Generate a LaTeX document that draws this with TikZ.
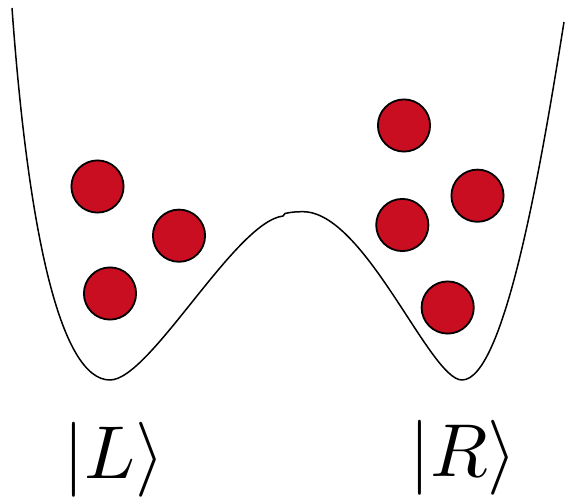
\documentclass[tikz,border=0pt]{standalone}
\usepackage{amsmath}
\usepackage{tikz}
\usetikzlibrary{positioning}
\definecolor{BallRed}{HTML}{C90E21}
\definecolor{WellColor}{HTML}{000000}

\begin{document}
\begin{tikzpicture}[x=1pt,y=-1pt,
    ball/.style={circle,draw=black,line width=1.8pt,fill=BallRed,
                 minimum size=52.2pt,inner sep=0pt},
    well/.style={WellColor,line width=1.5pt,line join=round},
    ket/.style={anchor=base,scale=7.5,inner sep=0pt}]
  \useasboundingbox (0,0) rectangle (566,498);
  % double-well potential (small step on top of the barrier)
  \coordinate (wtl) at (12,8);
  \coordinate (wminL) at (110,380);
  \coordinate (kink) at (283,216);
  \coordinate (kink2) at (285,213.5);
  \coordinate (peak) at (303,211.7);
  \coordinate (wminR) at (462,380);
  \coordinate (wtr) at (564,22);
  \draw[well] (wtl) .. controls (28,230) and (60,380) .. (wminL)
      .. controls (150,380) and (235,222) .. (kink) -- (kink2)
      .. controls (291,212) and (297,211.7) .. (peak)
      .. controls (365,211.7) and (430,380) .. (wminR)
      .. controls (505,380) and (542,160) .. (wtr);
  % particles
  \foreach \nm/\x/\y in {l1/97.5/186.5, l2/179/235.7, l3/110/293.5,
                         r1/404/125.5, r2/477.5/195.7, r3/402.3/225, r4/447.7/307.5}{
    \node[ball] (\nm) at (\x,\y) {};}
  % labels
  \node[ket] (kL) at (114,478.5) {$|L\rangle$};
  \node[ket] (kR) at (463,476.5) {$|R\rangle$};
\end{tikzpicture}
\end{document}
